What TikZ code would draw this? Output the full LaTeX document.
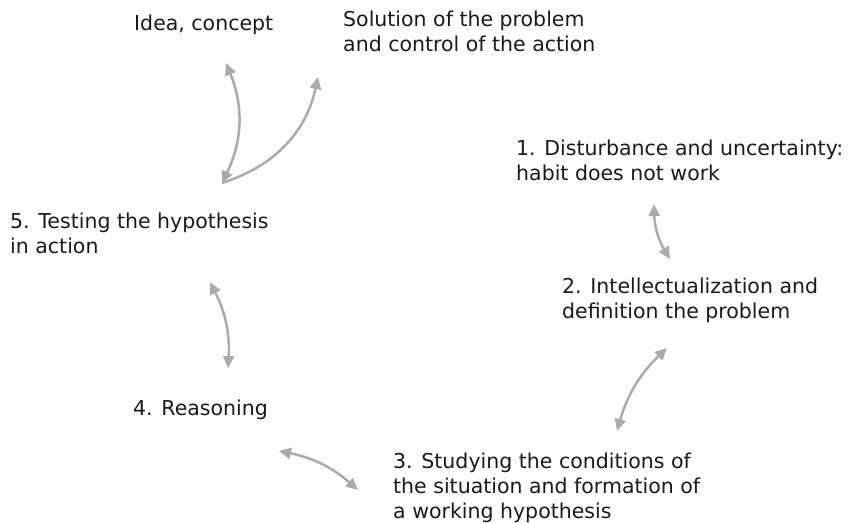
\documentclass[tikz,border=0pt]{standalone}
\usepackage{fontspec}
\setmainfont{DejaVu Sans}
\usetikzlibrary{arrows.meta}
\definecolor{arrgray}{HTML}{ABABAB}
\definecolor{txt}{HTML}{1A1A1A}
\tikzset{
  lbl/.style={anchor=base west, inner sep=0pt, align=left, text=txt,
    font=\fontsize{20.5}{25}\selectfont},
  conn/.style={draw=arrgray, line width=2.5pt,
    arrows={Triangle[length=12pt,width=11pt]-Triangle[length=12pt,width=11pt]}},
  conne/.style={draw=arrgray, line width=2.5pt,
    arrows={-Triangle[length=12pt,width=11pt]}}
}
\begin{document}
\begin{tikzpicture}[x=1pt,y=-1pt]
\useasboundingbox (0,0) rectangle (851,522);
% anchors are at the baseline of the last line
\node[lbl] (idea) at (134,30) {Idea, concept};
\node[lbl] (sol) at (343,51) {Solution of the problem\\and control of the action};
\node[lbl] (s1) at (516,180) {1. Disturbance and uncertainty:\\habit does not work};
\node[lbl] (s5) at (10,253.5) {5. Testing the hypothesis\\in action};
\node[lbl] (s2) at (562,318) {2. Intellectualization and\\definition the problem};
\node[lbl] (s4) at (133,415) {4. Reasoning};
\node[lbl] (s3) at (393,518.5) {3. Studying the conditions of\\the situation and formation of\\a working hypothesis};
% connector end points
\coordinate (ia) at (226,63);
\coordinate (ib) at (222,183);
\coordinate (sa) at (318,77);
\coordinate (ra) at (654,204);
\coordinate (rb) at (670,259);
\coordinate (qa) at (667,348);
\coordinate (qb) at (617,431);
\coordinate (ba) at (279,451);
\coordinate (bb) at (358,490);
\coordinate (la) at (210,282);
\coordinate (lb) at (228,368);
\draw[conn] (ia) to[bend left=24] (ib);
\draw[conne] (ib) to[bend right=30] (sa);
\draw[conn] (ra) to[bend right=15] (rb);
\draw[conn] (qa) to[bend right=15] (qb);
\draw[conn] (ba) to[bend left=15] (bb);
\draw[conn] (la) to[bend left=15] (lb);
\end{tikzpicture}
\end{document}
